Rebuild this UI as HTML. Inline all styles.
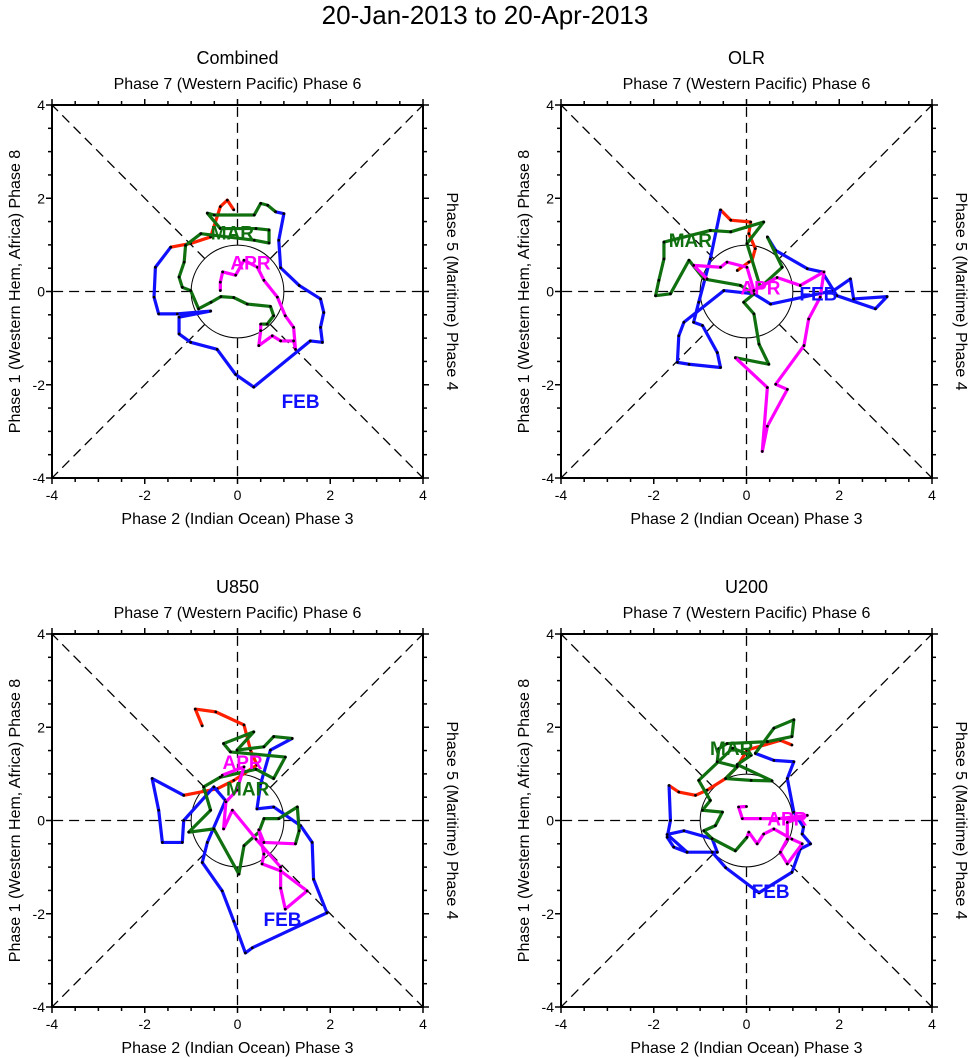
<!DOCTYPE html>
<html><head><meta charset="utf-8"><style>
body{margin:0;background:#fff}
svg{display:block;font-family:"Liberation Sans",sans-serif}
</style></head><body>
<svg id="chart" width="971" height="1058"></svg>
<script>
// ---- data (RMM1, RMM2) per panel, per month segment ----
const panelTitles = ["Combined","OLR","U850","U200"];
const tickLabels = ["-4","-2","0","2","4"];
const tickValues = [-4,-2,0,2,4];
const monthNames = ["JAN","FEB","MAR","APR"];
const monthColors = ["#ff2000","#1010ff","#107010","#ff00ff"];

const p1Jan = [[-0.08,1.75],[-0.22,1.96],[-0.37,1.82],[-0.58,1.17],[-1.01,1.03],[-1.44,0.95]];
const p1Feb = [[-1.44,0.95],[-1.77,0.52],[-1.80,-0.12],[-1.70,-0.48],[-1.30,-0.48],[-0.58,-0.42],[-1.26,-0.55],[-1.26,-0.91],[-1.01,-1.09],[-0.44,-1.24],[-0.04,-1.78],[0.35,-2.05],[1.57,-1.06],[1.83,-1.09],[1.79,-0.77],[1.86,-0.45],[1.79,-0.16],[1.33,0.13],[0.93,0.51],[0.89,1.10],[1.00,1.67],[0.82,1.71]];
const p1Mar = [[0.82,1.71],[0.65,1.85],[0.50,1.89],[0.36,1.64],[-0.50,1.64],[-0.65,1.68],[-0.37,1.35],[0.40,1.35],[0.68,1.32],[0.68,1.04],[0.36,1.10],[-0.79,1.24],[-1.12,0.99],[-1.15,0.63],[-1.26,0.31],[-1.19,0.09],[-1.01,0.02],[-0.84,-0.37],[-0.57,-0.23],[-0.36,-0.11],[-0.08,-0.13],[0.21,-0.27],[0.71,-0.32],[0.78,-0.52],[0.64,-0.70],[0.50,-0.70]];
const p1Apr = [[0.50,-0.70],[0.50,-0.84],[0.46,-1.16],[0.75,-0.95],[0.93,-1.06],[1.21,-1.06],[1.25,-1.24],[1.21,-0.77],[1.03,-0.52],[0.86,-0.12],[0.57,0.24],[0.43,0.52],[0.14,0.67],[-0.04,0.35],[-0.32,0.42],[-0.37,0.20],[-0.37,0.02]];

const p2Jan = [[-0.20,0.45],[0.05,0.63],[0.12,0.67],[0.19,0.92],[0.05,1.24],[0.09,1.49],[-0.34,1.53],[-0.56,1.75]];
const p2Feb = [[-0.56,1.75],[-0.78,0.70],[-1.03,-0.23],[-1.14,-0.66],[-0.95,-0.73],[-0.63,-1.31],[-0.56,-1.63],[-1.24,-1.56],[-1.49,-1.52],[-1.46,-0.95],[-1.35,-0.66],[-0.49,0.02],[0.16,-0.05],[0.52,-0.27],[1.88,0.02],[2.24,0.27],[2.31,-0.16],[3.03,-0.11],[2.78,-0.37],[1.95,-0.09],[1.63,0.42],[1.31,0.49],[0.63,0.88],[0.45,1.17]];
const p2Mar = [[0.45,1.17],[0.77,0.52],[0.30,0.09],[0.01,1.03],[0.37,1.49],[-0.34,1.28],[-0.78,1.31],[-1.78,1.06],[-1.78,0.70],[-1.89,0.24],[-1.96,-0.09],[-1.64,-0.05],[-1.24,0.67],[-0.92,0.27],[-0.13,0.13],[0.16,-0.05],[-0.06,-0.23],[0.16,-0.48],[0.27,-1.13],[0.48,-1.56],[-0.24,-1.42]];
const p2Apr = [[-0.24,-1.42],[0.45,-2.06],[0.34,-3.43],[0.45,-2.89],[0.88,-2.10],[0.63,-1.99],[1.24,-1.16],[1.34,-0.59],[1.59,-0.12],[1.67,0.42],[1.16,0.13],[0.66,0.30],[0.16,0.02],[0.01,0.52],[-0.42,0.63],[-0.56,0.52],[-1.14,0.56],[-0.85,0.27]];

const p3Jan = [[-0.76,2.03],[-0.91,2.39],[-0.47,2.33],[0.14,2.05],[0.28,1.51],[0.42,1.19],[-0.08,0.86],[-0.44,0.68],[-1.16,0.54]];
const p3Feb = [[-1.16,0.54],[-1.84,0.90],[-1.70,0.22],[-1.62,-0.47],[-1.19,-0.47],[-1.16,0.00],[-0.51,0.72],[-0.26,0.43],[-0.65,-0.47],[-0.76,-0.90],[-0.33,-1.51],[-0.08,-2.16],[0.17,-2.84],[0.32,-2.73],[1.93,-1.98],[1.64,-1.26],[1.61,-0.47],[1.36,-0.11],[0.78,0.29],[0.42,0.25],[0.50,0.79],[0.71,1.51],[1.18,1.76]];
const p3Mar = [[1.18,1.76],[0.78,1.80],[0.57,1.58],[-0.01,1.51],[0.35,1.90],[-0.30,1.65],[-0.15,1.47],[1.03,1.36],[0.78,0.90],[0.40,1.10],[-0.37,0.93],[-0.73,0.72],[-0.58,0.22],[-1.05,-0.25],[-0.51,-0.18],[0.03,-1.15],[0.14,-0.54],[0.46,-0.25],[0.57,0.04],[0.89,0.04],[1.29,0.29],[1.33,-0.22],[1.25,-0.50]];
const p3Apr = [[1.25,-0.50],[0.57,-0.47],[0.46,-0.20],[0.57,-0.72],[0.53,-0.93],[0.93,-1.08],[1.50,-1.51],[1.03,-1.90],[0.93,-1.45],[0.93,-1.00],[0.40,-0.40],[-0.11,0.22],[-0.30,-0.18],[-0.25,0.40],[-0.01,0.65],[0.14,1.15],[-0.33,0.97]];

const p4Jan = [[0.98,1.62],[0.73,1.72],[0.01,1.51],[-0.20,1.15],[-0.45,0.90],[-0.85,0.65],[-1.10,0.54],[-1.46,0.61],[-1.67,0.75]];
const p4Feb = [[-1.67,0.75],[-1.64,0.00],[-1.71,-0.36],[-1.57,-0.57],[-1.28,-0.68],[-1.71,-0.30],[-1.35,-0.22],[-0.74,-0.39],[-0.63,-0.68],[-1.28,-0.68],[-0.74,-0.68],[-0.45,-1.01],[0.27,-1.55],[0.98,-1.11],[1.16,-0.61],[1.38,-0.50],[1.20,-0.29],[1.23,-0.14],[1.02,0.18],[0.88,0.90],[1.02,1.26],[0.59,1.29],[0.19,1.44]];
const p4Mar = [[0.19,1.44],[0.59,1.98],[1.02,2.16],[0.98,1.80],[0.45,1.69],[-0.42,1.65],[-0.60,1.54],[-0.63,1.26],[-0.20,1.15],[-0.45,0.90],[0.10,0.86],[0.55,0.85],[-0.20,1.20],[0.10,1.40],[-0.30,1.55],[-1.03,0.86],[-0.78,0.43],[-0.95,0.22],[-0.52,0.18],[-0.67,-0.11],[-0.92,-0.22],[-0.74,-0.39],[-0.24,-0.65],[0.01,-0.36]];
const p4Apr = [[0.01,-0.36],[0.05,-0.25],[0.23,-0.50],[0.37,-0.29],[0.59,-0.18],[0.98,-0.40],[1.20,-0.50],[0.88,-0.93],[0.73,-0.68],[0.88,-0.40],[0.88,-0.04],[1.31,0.11],[0.70,0.04],[0.30,0.04],[-0.09,0.04],[-0.17,0.29],[0.00,0.30]];

const panelSeries = [[p1Jan,p1Feb,p1Mar,p1Apr],[p2Jan,p2Feb,p2Mar,p2Apr],[p3Jan,p3Feb,p3Mar,p3Apr],[p4Jan,p4Feb,p4Mar,p4Apr]];
const monthLabelPos = [
  [[-0.11,1.27],[1.36,-2.35],[0.28,0.62]],
  [[-1.21,1.10],[1.55,-0.04],[0.30,0.09]],
  [[0.22,0.69],[0.97,-2.11],[0.11,1.25]],
  [[-0.32,1.55],[0.52,-1.51],[0.88,0.04]]
];
const monthLabelText = ["MAR","FEB","APR"];
const monthLabelColor = ["#107010","#1010ff","#ff00ff"];

// ---- drawing ----
const NS="http://www.w3.org/2000/svg";
const svg=document.getElementById('chart');
function mk(tag,attrs,parent){const e=document.createElementNS(NS,tag);for(const k in attrs)e.setAttribute(k,attrs[k]);(parent||svg).appendChild(e);return e;}
function txt(s,attrs,parent){const e=mk('text',attrs,parent);e.textContent=s;return e;}

const t=txt("20-Jan-2013 to 20-Apr-2013",{x:485,y:24,"text-anchor":"middle","font-size":26});



const origins=[[52,105],[561,105],[52,634],[561,634]];
const W=371,H=373;
panelSeries.forEach((series,pi)=>{
  const [ox,oy]=origins[pi];
  const g=mk('g',{});
  
  
  const sx=v=>ox+(v+4)/8*W, sy=v=>oy+(4-v)/8*H;
  const cx=sx(0),cy=sy(0),ux=W/8;
  const pt=txt(panelTitles[pi],{x:cx,y:oy-41,"text-anchor":"middle","font-size":18},g);
  
  
  const top=txt("Phase 7 (Western Pacific) Phase 6",{x:cx,y:oy-16,"text-anchor":"middle","font-size":16},g);
  
  
  const bot=txt("Phase 2 (Indian Ocean) Phase 3",{x:cx,y:oy+H+46,"text-anchor":"middle","font-size":16},g);
  
  
  const lft=txt("Phase 1 (Western Hem, Africa) Phase 8",{x:0,y:0,"text-anchor":"middle","font-size":16,transform:`translate(${ox-32},${cy}) rotate(-90)`},g);
  
  
  const rgt=txt("Phase 5 (Maritime) Phase 4",{x:0,y:0,"text-anchor":"middle","font-size":16,transform:`translate(${ox+W+24},${cy}) rotate(90)`},g);
  
  
  const dirs=[[1,0],[-1,0],[0,1],[0,-1],[1,1],[1,-1],[-1,1],[-1,-1]];
  dirs.forEach(d=>{
    const n=Math.hypot(d[0],d[1]);
    const l=mk('line',{x1:sx(d[0]/n),y1:sy(d[1]/n),x2:sx(d[0]*4),y2:sy(d[1]*4),stroke:"#000","stroke-width":1.3,"stroke-dasharray":"10 6"},g);
    
    
  });
  const c=mk('circle',{cx:cx,cy:cy,r:ux,fill:"none",stroke:"#000","stroke-width":1},g);
  
  
  for(let v=-4;v<=4;v+=0.5){
    const major=(v%2===0),L=major?6:4;
    [[sx(v),oy+H,sx(v),oy+H+L],[sx(v),oy,sx(v),oy-L],[ox,sy(v),ox-L,sy(v)],[ox+W,sy(v),ox+W+L,sy(v)]].forEach(a=>{
      const tk=mk('line',{x1:a[0],y1:a[1],x2:a[2],y2:a[3],stroke:"#000","stroke-width":1.5},g);
      
      
    });
  }
  tickValues.forEach((v,i)=>{
    const a=txt(tickLabels[i],{x:sx(v),y:oy+H+22,"text-anchor":"middle","font-size":14},g);
    
    
    const b=txt(tickLabels[i],{x:ox-7,y:sy(v)+5,"text-anchor":"end","font-size":14},g);
    
    
  });
  const fr=mk('rect',{x:ox,y:oy,width:W,height:H,fill:"none",stroke:"#000","stroke-width":2},g);
  
  
  series.forEach((pts,mi)=>{
    const p=mk('polyline',{points:pts.map(q=>sx(q[0])+","+sy(q[1])).join(" "),fill:"none",stroke:monthColors[mi],"stroke-width":3.2,"stroke-linejoin":"round"},g);
    
    
    pts.forEach(q=>{
      const d=mk('circle',{cx:sx(q[0]),cy:sy(q[1]),r:1.4,fill:"#000"},g);
      
      
    });
  });
  monthLabelPos[pi].forEach((q,k)=>{
    const m=txt(monthLabelText[k],{x:sx(q[0]),y:sy(q[1])+7,"text-anchor":"middle","font-size":19,"font-weight":"bold",fill:monthLabelColor[k]},g);
    
    
  });
});
</script>
</body></html>
